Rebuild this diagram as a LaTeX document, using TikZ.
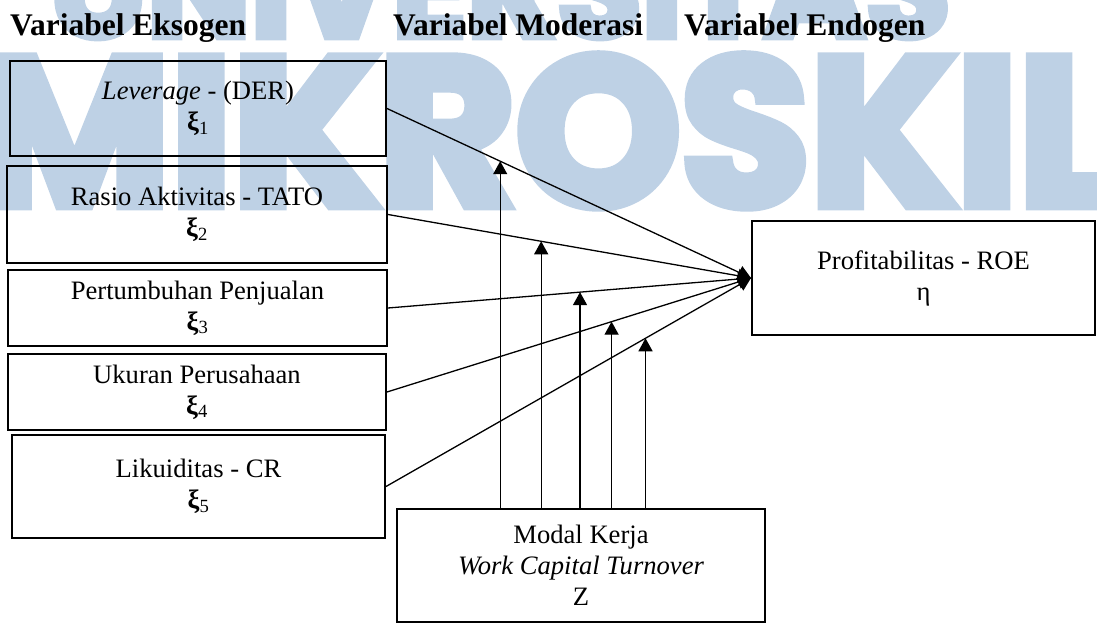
\documentclass[tikz,border=0pt]{standalone}
\usepackage{fontspec}
\setmainfont{Liberation Serif}
\newfontfamily\wmfont{Poppins}[BoldFeatures={FakeBold=5}]
\usetikzlibrary{arrows.meta,calc}
\definecolor{wmblue}{RGB}{190,209,229}
\newcommand{\xisub}[1]{{\bfseries ξ}\textsubscript{#1}}

\begin{document}
\begin{tikzpicture}[
    x=1pt, y=-1pt,
    box/.style={rectangle, draw, line width=2pt, align=center, inner sep=0pt,
                font=\fontsize{26.6}{31}\selectfont},
    head/.style={anchor=base west, inner sep=0pt,
                 font=\fontsize{31.5}{36}\selectfont\bfseries},
    arrow/.style={-{Triangle[width=14pt,length=13pt]}, line width=1.3pt},
    wmark/.style={text=wmblue, anchor=base, inner sep=0pt, font=\wmfont\bfseries}
]
\useasboundingbox (0,0) rectangle (1097,623);
% watermark
\begin{scope}
\clip (0,0) rectangle (1097,623);
\node[wmark, font=\wmfont\bfseries\fontsize{138}{138}\selectfont] (wm1) at (500,37) {UNIVERSITAS};
\node[wmark, font=\wmfont\bfseries\fontsize{210}{210}\selectfont] (wm2) at (548,205) {MIKROSKIL};
\end{scope}

\node[head] (hex) at (10,36) {Variabel Eksogen};
\node[head] (hmo) at (393,36) {Variabel Moderasi};
\node[head] (hen) at (684,36) {Variabel Endogen};

\node[box, minimum width=376pt, minimum height=95pt] (b1) at (198,108.5) {\textit{Leverage} - (DER)\\\xisub{1}};
\node[box, minimum width=380pt, minimum height=97pt] (b2) at (197,214.5) {Rasio Aktivitas - TATO\\\xisub{2}};
\node[box, minimum width=379pt, minimum height=76pt] (b3) at (197.5,308) {Pertumbuhan Penjualan\\\xisub{3}};
\node[box, minimum width=378pt, minimum height=76pt] (b4) at (197,392) {Ukuran Perusahaan\\\xisub{4}};
\node[box, minimum width=373pt, minimum height=103pt] (b5) at (198.5,486.5) {Likuiditas - CR\\\xisub{5}};
\node[box, minimum width=343pt, minimum height=114pt] (roe) at (923.5,278) {Profitabilitas - ROE\\η};
\node[box, minimum width=368pt, minimum height=113pt] (z) at (581,565.5) {Modal Kerja\\\textit{Work Capital Turnover}\\Z};

\draw[arrow] (b1.east) -- coordinate[pos=0.311] (m1) (roe.west);
\draw[arrow] (b2.east) -- coordinate[pos=0.422] (m2) (roe.west);
\draw[arrow] (b3.east) -- coordinate[pos=0.529] (m3) (roe.west);
\draw[arrow] (b4.east) -- coordinate[pos=0.617] (m4) (roe.west);
\draw[arrow] (b5.east) -- coordinate[pos=0.711] (m5) (roe.west);

\foreach \m in {m1,m2,m3,m4,m5}
  \draw[arrow] (\m |- z.north) -- (\m);
\end{tikzpicture}
\end{document}
